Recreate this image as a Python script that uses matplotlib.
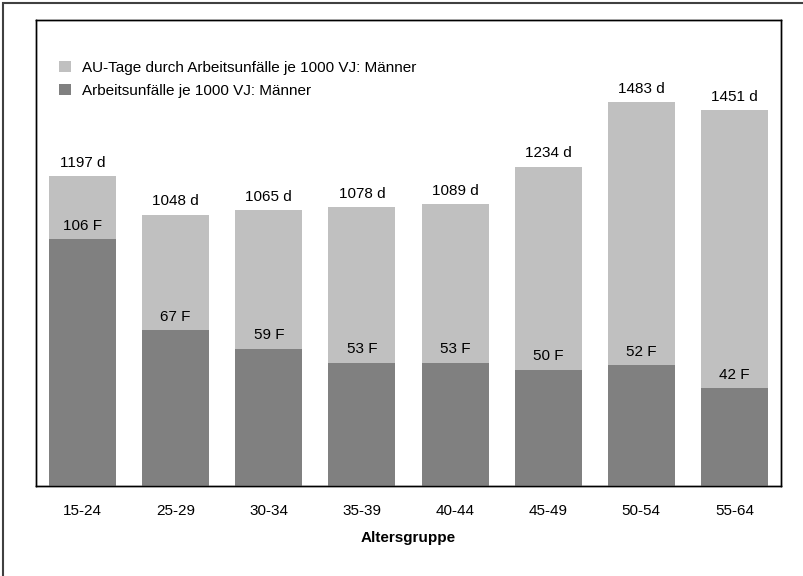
# Overlapping bar chart: AU-Tage und Arbeitsunfälle je 1000 VJ (Männer) nach Altersgruppe
import numpy as np
import matplotlib
matplotlib.use("Agg")
import matplotlib.pyplot as plt
from matplotlib.patches import Patch, Rectangle

plt.rcParams.update({
    "font.family": ["Liberation Sans", "DejaVu Sans"],
    "font.size": 11,
})

# Data
groups = ["15-24", "25-29", "30-34", "35-39", "40-44", "45-49", "50-54", "55-64"]
au_tage = [1197, 1048, 1065, 1078, 1089, 1234, 1483, 1451]
unfaelle = [106, 67, 59, 53, 53, 50, 52, 42]
legend_labels = ["AU-Tage durch Arbeitsunfälle je 1000 VJ: Männer",
                 "Arbeitsunfälle je 1000 VJ: Männer"]

col_light = "#c0c0c0"
col_dark = "#808080"
fs = 11

fig = plt.figure(figsize=(8.04, 5.76), dpi=100)
ax = fig.add_axes([36 / 804, 90 / 576, 745 / 804, 466 / 576])
ax2 = ax.twinx()

x = np.arange(len(groups))
w = 0.72

# Light bars (days) on primary axis, dark bars (accidents) on secondary axis
ax.bar(x, au_tage, width=w, color=col_light, zorder=2)
ax2.bar(x, unfaelle, width=w, color=col_dark, zorder=2)
ax.set_ylim(0, 1800)
ax2.set_ylim(0, 200)
ax.set_xlim(-0.5, len(groups) - 0.5)

for xi, v in zip(x, au_tage):
    ax.annotate(f"{v} d", (xi, v), xytext=(0, 4.5), textcoords="offset points",
                ha="center", va="bottom", fontsize=fs)
for xi, v in zip(x, unfaelle):
    ax2.annotate(f"{v} F", (xi, v), xytext=(0, 4.5), textcoords="offset points",
                 ha="center", va="bottom", fontsize=fs)

for a in (ax, ax2):
    a.set_yticks([])
    for s in a.spines.values():
        s.set_color("black")
        s.set_linewidth(1.0)

ax.set_xticks(x)
ax.set_xticklabels(groups, fontsize=fs)
ax.tick_params(axis="x", length=0, pad=13)
ax.set_xlabel("Altersgruppe", fontsize=fs, fontweight="bold", labelpad=9)

handles = [Patch(facecolor=col_light, edgecolor="none"),
           Patch(facecolor=col_dark, edgecolor="none")]
ax2.legend(handles, legend_labels, loc="upper left",
           bbox_to_anchor=(23 / 745, 0.912), frameon=False, fontsize=fs,
           borderaxespad=0, borderpad=0, handlelength=0.78, handleheight=0.78,
           handletextpad=0.72, labelspacing=0.57)

# Outer frame (top and left edges visible)
fig.patches.append(Rectangle((3.5 / 804, -0.1), 1.2, 1.1 - 3.5 / 576,
                             transform=fig.transFigure, fill=False,
                             edgecolor="#404040", linewidth=1.5))

fig.savefig("out.png", dpi=100)
